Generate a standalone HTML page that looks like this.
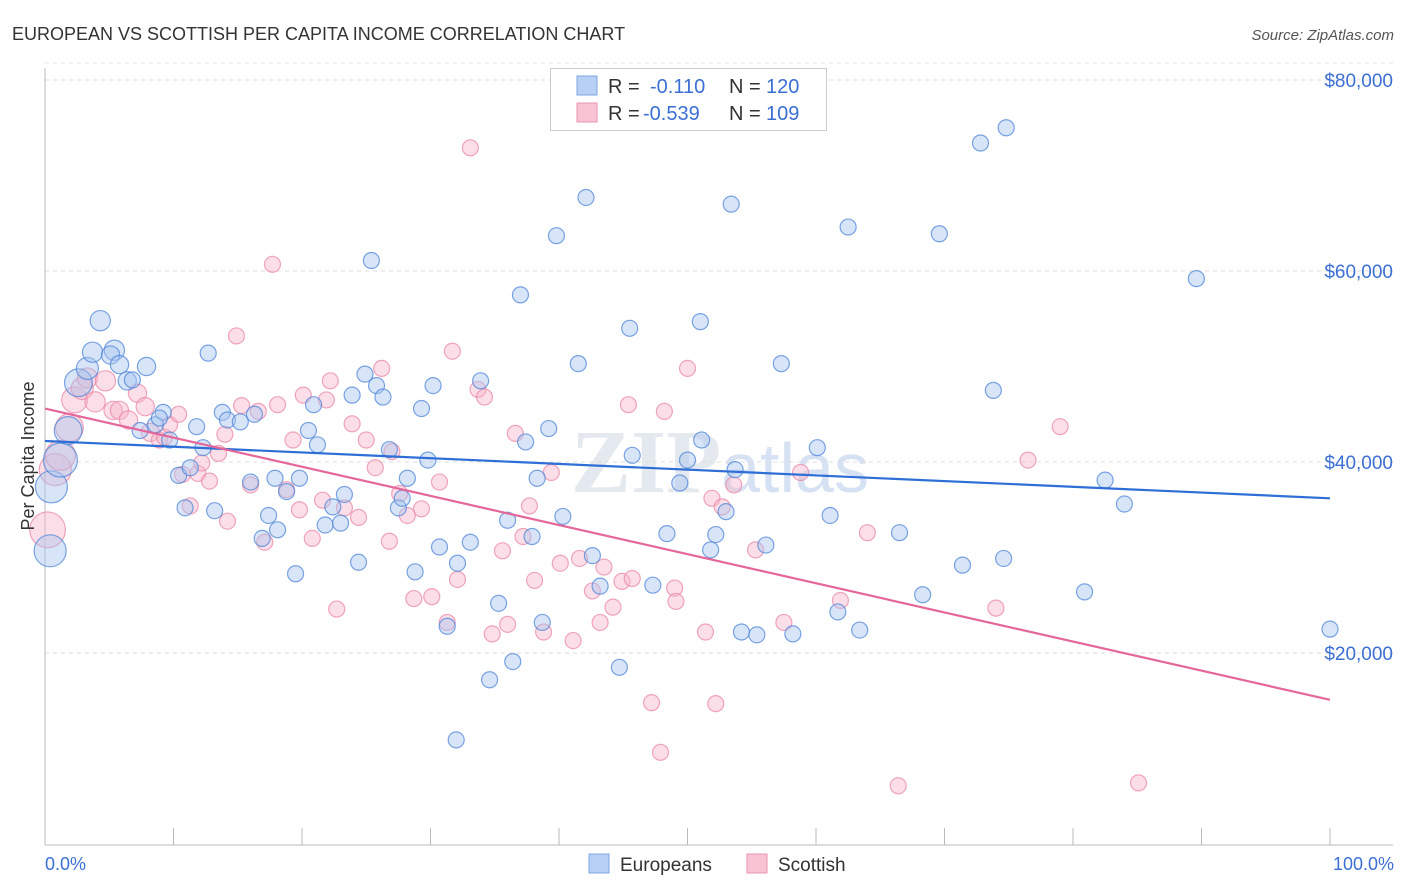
<!DOCTYPE html>
<html><head><meta charset="utf-8"><style>
body{margin:0;background:#fff;font-family:"Liberation Sans",sans-serif;}
svg{display:block}
</style></head><body>
<svg id="chart" width="1406" height="892" xmlns="http://www.w3.org/2000/svg">
<text x="12" y="40" font-size="18" fill="#333">EUROPEAN VS SCOTTISH PER CAPITA INCOME CORRELATION CHART</text>
<text x="1394" y="40" font-size="15" fill="#555" font-style="italic" text-anchor="end">Source: ZipAtlas.com</text>
<text x="720" y="492" font-size="90" fill="#e4e8ef" text-anchor="middle" font-family="Liberation Serif,serif" font-weight="bold">ZIP<tspan fill="#d6e2f3" font-family="Liberation Sans,sans-serif" font-weight="normal" font-size="70">atlas</tspan></text>
<g id="grid"></g>
<g id="marks"></g>
<text transform="translate(34,456) rotate(-90)" font-size="18" fill="#333" text-anchor="middle">Per Capita Income</text>
<text x="45" y="870" font-size="18" fill="#3b6fd4">0.0%</text>
<text x="1394" y="870" font-size="18" fill="#3b6fd4" text-anchor="end">100.0%</text>
<g>
<rect x="550.5" y="68.5" width="276" height="62" fill="#fff" stroke="#ccc"/>
<rect x="577" y="76" width="20" height="19" fill="#b7d0f4" stroke="#7ea6e6"/>
<rect x="577" y="103" width="20" height="19" fill="#f9c3d3" stroke="#eb95b1"/>
<text x="608" y="93" font-size="20" fill="#333">R = <tspan x="650" fill="#3b6fd4">-0.110</tspan><tspan x="729" fill="#333">N = </tspan><tspan x="766" fill="#3b6fd4">120</tspan></text>
<text x="608" y="120" font-size="20" fill="#333">R = <tspan x="643" fill="#3b6fd4">-0.539</tspan><tspan x="729" fill="#333">N = </tspan><tspan x="766" fill="#3b6fd4">109</tspan></text>
</g>
<g>
<rect x="589" y="854" width="20" height="19" fill="#b7d0f4" stroke="#7ea6e6"/>
<text x="620" y="871" font-size="19" fill="#333">Europeans</text>
<rect x="747" y="854" width="20" height="19" fill="#f9c3d3" stroke="#eb95b1"/>
<text x="778" y="871" font-size="19" fill="#333">Scottish</text>
</g>
</svg>
<script>
const yTicks=[20000,40000,60000,80000];
const yTickLabels=["$20,000","$40,000","$60,000","$80,000"];
const xTicks=[10,20,30,40,50,60,70,80,90,100];
const bluePct=[0.5,0.4,1.2,1.8,2.6,3.3,4.3,5.4,3.7,5.1,5.8,6.4,6.8,7.9,7.4,8.6,9.2,9.7,8.9,10.9,10.4,11.3,11.8,12.3,12.7,13.2,13.8,14.2,15.2,16.3,16.0,16.9,17.4,17.9,18.1,18.8,19.5,19.8,20.5,20.9,21.2,21.8,22.4,23.0,23.3,23.9,24.4,24.9,25.4,25.8,26.3,26.8,27.5,27.8,28.2,28.8,29.3,29.8,30.2,30.7,31.3,32.0,32.1,33.1,33.9,34.6,35.3,36.0,36.4,37.0,37.4,37.9,38.3,38.7,39.2,39.8,40.3,41.5,42.1,42.6,43.2,44.7,45.5,45.7,47.3,48.4,49.4,50.0,51.0,51.1,51.8,52.2,53.0,53.4,53.7,54.2,55.4,56.1,57.3,58.2,60.1,61.1,61.7,62.5,63.4,66.5,68.3,69.6,71.4,72.8,73.8,74.6,74.8,80.9,82.5,84.0,89.6,100.0];
const blueIncome=[37400,30700,40200,43300,48300,49800,54800,51700,51500,51200,50200,48500,48600,50000,43300,43900,45200,42300,44600,35200,38600,39400,43700,41500,51400,34900,45200,44400,44200,45000,37900,32000,34400,38300,32900,36900,28300,38300,43300,46000,41800,33400,35300,33600,36600,47000,29500,49200,61100,48000,46800,41300,35200,36200,38300,28500,45600,40200,48000,31100,22800,10900,29400,31600,48500,17200,25200,33900,19100,57500,42100,32200,38300,23200,43500,63700,34300,50300,67700,30200,27000,18500,54000,40700,27100,32500,37800,40200,54700,42300,30800,32400,34800,67000,39200,22200,21900,31300,50300,22000,41500,34400,24300,64600,22400,32600,26100,63900,29200,73400,47500,29900,75000,26400,38100,35600,59200,22500];
const blueWeight=[4,4,4.5,3,3,1.9,1.6,1.6,1.6,1.3,1.3,1.3,1,1.3];
const pinkPct=[0.2,0.8,1.2,1.9,2.3,2.9,3.3,3.9,4.7,5.3,5.8,6.5,7.2,7.8,8.2,8.9,9.3,9.7,10.4,10.7,11.3,11.9,12.2,12.8,13.5,14.0,14.2,14.9,15.3,16.0,16.6,17.1,17.7,18.1,18.8,19.3,19.8,20.1,20.8,21.6,21.9,22.2,22.7,23.3,23.9,24.4,25.0,25.7,26.2,26.8,27.0,27.6,28.2,28.7,29.3,30.1,30.7,31.3,31.7,32.1,33.1,33.7,34.2,34.8,35.6,36.0,36.6,37.2,37.7,38.1,38.8,39.4,40.1,41.1,41.6,42.6,43.2,43.5,44.2,44.9,45.4,45.7,47.2,47.9,48.2,49.0,49.1,50.0,51.4,51.9,52.2,52.7,53.6,55.3,57.5,58.8,61.9,64.0,66.4,74.0,76.5,79.0,85.1];
const pinkIncome=[32900,39200,40700,43600,46500,47700,48800,46300,48500,45400,45400,44400,47200,45800,43100,42300,42600,43900,45000,38700,35400,38800,39900,38000,40900,42900,33800,53200,45900,37600,45300,31600,60700,46000,37100,42300,35000,47000,32000,36000,46500,48500,24600,35200,44000,34200,42300,39400,49800,31700,41100,36700,34400,25700,35100,25900,37900,23200,51600,27700,72900,47600,46800,22000,30700,23000,43000,32200,35400,27600,22200,38900,29400,21300,29900,26500,23200,29000,24800,27500,46000,27800,14800,9600,45300,26800,25400,49800,22200,36200,14700,35300,37600,30800,23200,38900,25500,32600,6100,24700,40200,43700,6400];
const pinkWeight=[5,4,3.5,3,2.6,1.9,1.6,1.6,1.6,1.3,1.3,1.3,1.3,1.3,1.3];
const blueTrend=[42200,36200];
const pinkTrend=[45600,15100];

const X0=45,X1=1330,Y0=844,YPER=191/20000;
const xs=p=>X0+(X1-X0)*p/100;
const ys=v=>Y0-v*YPER;
const NS="http://www.w3.org/2000/svg";
function mk(tag,attrs,parent){const e=document.createElementNS(NS,tag);for(const k in attrs)e.setAttribute(k,attrs[k]);parent.appendChild(e);return e;}
const grid=document.getElementById('grid'),marks=document.getElementById('marks');
yTicks.forEach((v,i)=>{
 const l=mk('line',{x1:45,x2:1393,y1:ys(v),y2:ys(v),stroke:'#ddd','stroke-dasharray':'4,4'},grid);
 
 
 const t=mk('text',{x:1393,y:ys(v)+7,'font-size':19,fill:'#3b6fd4','text-anchor':'end'},grid);
 t.textContent=yTickLabels[i];
 
 
});
const gl=mk('line',{x1:45,x2:1393,y1:ys(80000)-17,y2:ys(80000)-17,stroke:'#e6e6e6','stroke-dasharray':'4,4'},grid);


const ya=mk('line',{x1:45,x2:45,y1:68,y2:845,stroke:'#bbb'},grid);


const xa=mk('line',{x1:45,x2:1393,y1:845,y2:845,stroke:'#bbb'},grid);


xTicks.forEach(p=>{
 const t=mk('line',{x1:xs(p),x2:xs(p),y1:828,y2:845,stroke:'#bbb'},grid);
 
 
});
function dots(pct,inc,w,fill,stroke,name){
 pct.forEach((p,i)=>{
  const r=8*Math.sqrt(w[i]||1);
  const c=mk('circle',{cx:xs(p),cy:ys(inc[i]),r:r,fill:fill,'fill-opacity':0.45,stroke:stroke,'stroke-opacity':0.75,'stroke-width':1.2},marks);
  
  
 });
}
dots(pinkPct,pinkIncome,pinkWeight,'#f7b6ca','#e988a8','scottish-point');
dots(bluePct,blueIncome,blueWeight,'#a8c6f0','#4f86d8','european-point');
const bl=mk('line',{x1:xs(0),y1:ys(blueTrend[0]),x2:xs(100),y2:ys(blueTrend[1]),stroke:'#2d6fd6','stroke-width':2.2},marks);


const pl=mk('line',{x1:xs(0),y1:ys(pinkTrend[0]),x2:xs(100),y2:ys(pinkTrend[1]),stroke:'#e5679a','stroke-width':2.2},marks);


</script>
</body></html>
